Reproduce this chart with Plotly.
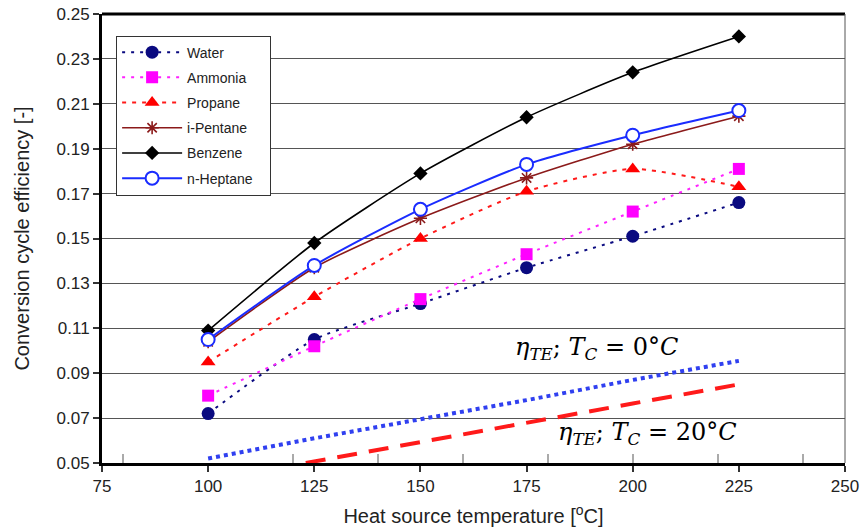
import plotly.graph_objects as go

# ---- data ----
temps = [100, 125, 150, 175, 200, 225]
water = [0.072, 0.105, 0.121, 0.137, 0.151, 0.166]
ammonia = [0.080, 0.102, 0.123, 0.143, 0.162, 0.181]
propane = [0.095, 0.124, 0.150, 0.171, 0.181, 0.173]
ipentane = [0.104, 0.137, 0.159, 0.177, 0.192, 0.2045]
benzene = [0.109, 0.148, 0.179, 0.204, 0.224, 0.240]
nheptane = [0.105, 0.138, 0.163, 0.183, 0.196, 0.207]

te0_t = [100, 125, 150, 175, 200, 225]
te0_eff = [0.052, 0.061, 0.0695, 0.078, 0.087, 0.0955]
te20_t = [123, 150, 175, 200, 225]
te20_eff = [0.050, 0.0594, 0.068, 0.0765, 0.085]

x_ticks = [75, 100, 125, 150, 175, 200, 225, 250]
y_ticks = [0.05, 0.07, 0.09, 0.11, 0.13, 0.15, 0.17, 0.19, 0.21, 0.23, 0.25]
minor_x_ticks = [80, 120, 140, 160, 180, 200, 220, 240]

fig = go.Figure()

# thermoelectric reference lines
fig.add_trace(go.Scatter(x=te0_t, y=te0_eff, mode="lines", showlegend=False,
                         line=dict(color="#3040f0", width=4, dash="dot")))
fig.add_trace(go.Scatter(x=te20_t, y=te20_eff, mode="lines", showlegend=False,
                         line=dict(color="#ff1a1a", width=4, dash="20px,12px")))

series = [
    ("Water", water, dict(color="#0a0a80", width=2, dash="3px,6px"),
     dict(symbol="circle", size=13, color="#0a0a80")),
    ("Ammonia", ammonia, dict(color="#ff22ff", width=2, dash="3px,6px"),
     dict(symbol="square", size=12, color="#ff00ff")),
    ("Propane", propane, dict(color="#ff1a1a", width=2, dash="4px,6px"),
     dict(symbol="triangle-up", size=13, color="#ff0000")),
    ("i-Pentane", ipentane, dict(color="#8b1a1a", width=1.6),
     dict(symbol="asterisk-open", size=11, color="#8b1a1a", line=dict(color="#8b1a1a", width=1.6))),
    ("Benzene", benzene, dict(color="#000000", width=1.6),
     dict(symbol="diamond", size=11, color="#000000")),
    ("n-Heptane", nheptane, dict(color="#1a2cff", width=2),
     dict(symbol="circle", size=13, color="white", line=dict(color="#1a2cff", width=2))),
]
for i, (name, vals, ln, mk) in enumerate(series):
    fig.add_trace(go.Scatter(x=temps, y=vals, name=name + "   ", mode="lines+markers",
                             line=dict(shape="spline", smoothing=0.6, **ln), marker=mk,
                             legendgroup=f"g{i}"))

# invisible trace on secondary x axis for the faint inner ticks
fig.add_trace(go.Scatter(x=[None], y=[None], xaxis="x2", showlegend=False, hoverinfo="skip"))

ann_font = dict(family="DejaVu Serif", size=24, color="black")
fig.add_annotation(x=191.5, y=0.1010, xref="x", yref="y", showarrow=False, font=ann_font,
                   text="<i>η<sub>TE</sub></i>; <i>T<sub>C</sub></i> = 0°<i>C</i>")
fig.add_annotation(x=203.5, y=0.0630, xref="x", yref="y", showarrow=False, font=ann_font,
                   text="<i>η<sub>TE</sub></i>; <i>T<sub>C</sub></i> = 20°<i>C</i>")

# frame: thick top border, thin right border
fig.add_shape(type="line", xref="paper", yref="paper", x0=0, x1=1, y0=1, y1=1,
              line=dict(color="black", width=3))
fig.add_shape(type="line", xref="paper", yref="paper", x0=1, x1=1, y0=0, y1=1,
              line=dict(color="#555555", width=1))

tick_font = dict(family="Liberation Sans, Arial", size=17, color="#222222")
fig.update_layout(
    width=862, height=531,
    margin=dict(l=102, r=17, t=14, b=68),
    paper_bgcolor="white", plot_bgcolor="white",
    font=dict(family="Liberation Sans, Arial", color="#222222"),
    xaxis=dict(range=[75, 250], tickvals=x_ticks, ticktext=[str(v) for v in x_ticks],
               showgrid=False, zeroline=False, showline=True, linecolor="black", linewidth=3,
               ticks="outside", ticklen=6, tickwidth=1.5, tickcolor="#333333",
               tickfont=tick_font, automargin=False,
               title=dict(text="Heat source temperature [<sup>o</sup>C]",
                          font=dict(size=20, color="#222222"), standoff=14)),
    xaxis2=dict(range=[75, 250], overlaying="x", side="bottom", tickvals=minor_x_ticks,
                showticklabels=False, ticks="inside", ticklen=9, tickwidth=1.5,
                tickcolor="#aaaaaa", showgrid=False, zeroline=False, showline=False,
                automargin=False),
    yaxis=dict(range=[0.05, 0.25], tickvals=y_ticks, ticktext=[f"{v:.2f}" for v in y_ticks],
               showgrid=True, gridcolor="#555555", gridwidth=1.3, zeroline=False,
               showline=True, linecolor="black", linewidth=3,
               ticks="outside", ticklen=6, tickwidth=1.5, tickcolor="#333333",
               tickfont=tick_font, automargin=False,
               title=dict(text="Conversion cycle efficiency [-]",
                          font=dict(size=20, color="#222222"), standoff=22)),
    legend=dict(x=0.019, y=0.952, xanchor="left", yanchor="top",
                bgcolor="white", bordercolor="#333333", borderwidth=1,
                font=dict(family="Liberation Sans, Arial", size=14, color="#222222"),
                tracegroupgap=4, itemwidth=60),
    showlegend=True,
)

fig.write_html("out.html")
